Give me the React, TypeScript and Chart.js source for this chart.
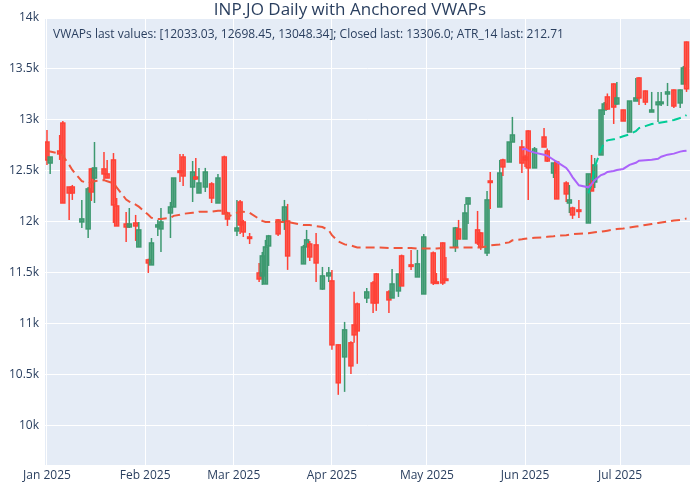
import { useEffect, useRef } from "react"
import { Chart, registerables, type Plugin } from "chart.js"

Chart.register(...registerables)

// day offset from 1 Jan 2025
const days = [0,1,4,5,7,8,11,13,14,15,18,19,21,22,25,26,28,29,32,33,35,36,39,40,42,43,46,47,48,50,52,54,56,57,60,61,62,64,67,68,69,70,73,75,76,81,82,83,85,87,89,90,92,94,96,97,98,101,103,104,108,109,111,112,115,117,119,122,123,125,126,129,130,132,133,136,137,139,140,143,144,146,147,150,151,152,154,157,158,160,161,164,165,166,168,171,172,173,175,176,177,179,180,182,184,186,187,189,191,193,194,196,198,200,201,202]
const opens = [12784,12578,12696,12970,12343,12343,12000,11932,12520,12431,12520,12471,12608,12157,11980,11951,11990,11755,11628,11579,11951,11932,12088,12147,12500,12637,12343,12441,12284,12343,12373,12186,12637,12088,11912,12196,12000,11853,11500,11471,11392,11765,12020,12010,12010,11589,11755,11784,11775,11343,11471,11422,10795,10677,10815,10990,11196,11255,11402,11490,11314,11255,11324,11667,11579,11461,11294,11696,11412,11794,11441,11755,11931,11833,12176,11922,11892,11696,12402,12147,12608,12588,12784,12735,12637,12892,12530,12833,12696,12480,12588,12382,12186,12137,12118,11990,12373,12392,12657,13098,13226,13353,13157,13098,12882,13186,13412,13284,13078,13150,13160,13255,13294,13167,13353,13764]
const highs = [12902,12637,12853,12990,12343,12363,12216,12343,12530,12784,12686,12608,12676,12235,12098,12137,12069,12000,11640,11843,12020,12137,12196,12431,12667,12667,12598,12628,12530,12530,12390,12471,12650,12100,12216,12216,12020,11892,11598,11706,11824,11873,12030,12216,12177,11775,11922,11814,11892,11559,11559,11530,10800,11020,10830,11315,11210,11353,11420,11500,11330,11540,11490,11680,11726,11726,11882,11710,11500,11800,11657,11951,12020,12177,12236,12108,11900,12304,12490,12608,12620,12784,13030,12804,12660,12900,12735,12922,12720,12578,12600,12400,12363,12150,12216,12471,12657,12627,13098,13176,13260,13360,13373,13100,13186,13412,13420,13290,13275,13275,13275,13363,13300,13300,13530,13770]
const lows = [12559,12471,12608,12186,12020,12216,11941,11843,12206,12186,12412,12431,11990,11961,11804,11941,11814,11755,11500,11579,11863,11706,11843,12147,12392,12353,12196,12412,12284,12294,12186,12186,12078,11961,11863,11883,11853,11784,11412,11383,11392,11569,11863,11922,11530,11589,11755,11618,11412,11334,11412,10746,10305,10334,10510,10815,10609,11206,11108,11128,11108,11255,11265,11373,11530,11461,11294,11383,11392,11383,11420,11706,11833,11833,11980,11775,11726,11667,12128,12147,12451,12588,12784,12480,12539,12216,12530,12735,12588,12431,12226,12196,12088,12030,12039,11990,12304,12333,12657,13050,13098,12961,13150,12990,12882,13186,13147,13147,13078,12980,13137,13137,13118,13118,13353,13275]
const closes = [12608,12637,12667,12186,12284,12284,12030,12324,12294,12530,12471,12431,12167,11961,11951,11980,11961,11922,11598,11794,11971,12000,12147,12431,12490,12451,12490,12422,12382,12490,12235,12431,12078,12029,11941,11971,11902,11843,11441,11667,11755,11863,11883,12147,11667,11755,11824,11657,11598,11471,11500,10795,10423,10942,10589,10893,10932,11314,11206,11206,11236,11392,11490,11373,11569,11589,11853,11402,11402,11402,11432,11941,11833,12088,12236,11794,11755,12216,12392,12480,12540,12784,12853,12578,12608,12530,12716,12735,12598,12578,12226,12275,12216,12069,12108,12471,12304,12559,13098,13157,13108,13127,13216,12990,13186,13216,13216,13176,13098,13176,13176,13275,13137,13294,13510,13306]

// anchored VWAP from the first session
const vwapJan = [12700,12690,12670,12650,12560,12510,12400,12380,12390,12400,12410,12400,12380,12340,12220,12200,12170,12150,12070,12040,12030,12030,12040,12060,12070,12080,12090,12090,12100,12100,12100,12110,12110,12050,12090,12100,12100,12090,12030,12010,12000,12000,12000,12000,12000,11970,11970,11970,11960,11950,11920,11870,11810,11780,11770,11760,11750,11750,11750,11750,11745,11745,11745,11745,11745,11740,11740,11740,11740,11745,11750,11750,11750,11750,11750,11750,11750,11760,11770,11780,11790,11800,11820,11830,11835,11840,11845,11850,11855,11860,11865,11870,11875,11880,11885,11890,11895,11900,11905,11910,11915,11925,11930,11935,11945,11955,11960,11970,11980,11990,11995,12005,12015,12020,12028,12033]
const vwapJunDays = [150,151,152,154,157,158,160,161,164,165,166,168,171,172,173,175,176,177,179,180,182,184,186,187,189,191,193,194,196,198,200,201,202]
const vwapJun = [12710,12720,12700,12680,12660,12650,12610,12590,12530,12490,12440,12360,12340,12370,12410,12460,12470,12490,12500,12510,12520,12560,12580,12600,12605,12610,12620,12640,12660,12670,12690,12695,12698.45]
const vwapLateDays = [171,172,173,175,176,177,179,180,182,184,186,187,189,191,193,194,196,198,200,201,202]
const vwapLate = [12280,12370,12540,12710,12780,12800,12810,12820,12840,12860,12890,12920,12940,12960,12970,12975,12985,13000,13020,13030,13048.34]

const monthTicks = [0, 31, 59, 90, 120, 151, 181]
const monthLabels = ["Jan 2025", "Feb 2025", "Mar 2025", "Apr 2025", "May 2025", "Jun 2025", "Jul 2025"]

const TXT = "#2a3f5f"
const UP = "#3D9970"
const DOWN = "#FF4136"

const candlePlugin: Plugin = {
  id: "candles",
  beforeDatasetsDraw(chart) {
    const { ctx, scales, chartArea } = chart
    const xs = scales.x
    const ys = scales.y
    ctx.save()
    ctx.beginPath()
    ctx.rect(chartArea.left, chartArea.top, chartArea.right - chartArea.left, chartArea.bottom - chartArea.top)
    ctx.clip()
    days.forEach((d, i) => {
      const up = closes[i] >= opens[i]
      const col = up ? UP : DOWN
      const x = xs.getPixelForValue(d)
      ctx.strokeStyle = col
      ctx.lineWidth = 1.5
      ctx.beginPath()
      ctx.moveTo(x, ys.getPixelForValue(highs[i]))
      ctx.lineTo(x, ys.getPixelForValue(lows[i]))
      ctx.stroke()
      const y1 = ys.getPixelForValue(Math.max(opens[i], closes[i]))
      const y2 = ys.getPixelForValue(Math.min(opens[i], closes[i]))
      ctx.fillStyle = col
      ctx.globalAlpha = 0.75
      ctx.fillRect(x - 2, y1, 4, Math.max(1.5, y2 - y1))
      ctx.globalAlpha = 1
      ctx.strokeRect(x - 2, y1, 4, Math.max(1.5, y2 - y1))
    })
    ctx.restore()
  },
  afterDraw(chart) {
    const { ctx } = chart
    ctx.save()
    ctx.fillStyle = TXT
    ctx.textAlign = "center"
    ctx.textBaseline = "middle"
    ctx.font = "17px 'Open Sans'"
    ctx.fillText("INP.JO Daily with Anchored VWAPs", 350, 10)
    ctx.textAlign = "left"
    ctx.font = "12px 'Open Sans'"
    ctx.fillText("VWAPs last values: [12033.03, 12698.45, 13048.34]; Closed last: 13306.0; ATR_14 last: 212.71", 53, 35)
    ctx.restore()
  },
}

export default function App() {
  const ref = useRef<HTMLCanvasElement>(null)

  useEffect(() => {
    document.body.style.margin = "0"
    if (!ref.current) return
    const chart = new Chart(ref.current, {
      type: "line",
      data: {
        datasets: [
          {
            data: days.map((d, i) => ({ x: d, y: vwapJan[i] })),
            borderColor: "#EF553B",
            borderWidth: 2,
            borderDash: [9, 5],
            pointRadius: 0,
          },
          {
            data: vwapJunDays.map((d, i) => ({ x: d, y: vwapJun[i] })),
            borderColor: "#AB63FA",
            borderWidth: 2,
            pointRadius: 0,
          },
          {
            data: vwapLateDays.map((d, i) => ({ x: d, y: vwapLate[i] })),
            borderColor: "#00CC96",
            borderWidth: 2,
            borderDash: [9, 5],
            pointRadius: 0,
          },
        ],
      },
      options: {
        animation: false,
        responsive: false,
        layout: { padding: { top: 18, right: 10, left: 0, bottom: 0 } },
        plugins: { legend: { display: false }, tooltip: { enabled: false } },
        scales: {
          x: {
            type: "linear",
            min: -0.63,
            max: 203.1,
            afterBuildTicks: (s) => {
              s.ticks = monthTicks.map((v) => ({ value: v }))
            },
            afterFit: (s) => {
              s.height = 35
            },
            ticks: {
              color: TXT,
              font: { family: "Open Sans", size: 12 },
              maxRotation: 0,
              autoSkip: false,
              callback: (v) => monthLabels[monthTicks.indexOf(Number(v))] ?? "",
            },
            grid: { color: "#ffffff", lineWidth: 1, drawTicks: false },
            border: { display: false },
          },
          y: {
            type: "linear",
            min: 9617,
            max: 14000,
            afterBuildTicks: (s) => {
              s.ticks = [10000, 10500, 11000, 11500, 12000, 12500, 13000, 13500, 14000].map((v) => ({ value: v }))
            },
            afterFit: (s) => {
              s.width = 45
            },
            ticks: {
              color: TXT,
              font: { family: "Open Sans", size: 12 },
              padding: 6,
              callback: (v) => Number(v) / 1000 + "k",
            },
            grid: { color: "#ffffff", lineWidth: 1, drawTicks: false },
            border: { display: false },
          },
        },
      },
      plugins: [
        {
          id: "bg",
          beforeDraw(c) {
            const a = c.chartArea
            c.ctx.save()
            c.ctx.fillStyle = "#E5ECF6"
            c.ctx.fillRect(a.left, a.top, a.right - a.left, a.bottom - a.top)
            c.ctx.restore()
          },
        },
        candlePlugin,
      ],
    })
    return () => chart.destroy()
  }, [])

  return (
    <div style={{ width: 700, height: 500, background: "#fff" }}>
      <canvas ref={ref} width={700} height={500} style={{ width: 700, height: 500 }} />
    </div>
  )
}
